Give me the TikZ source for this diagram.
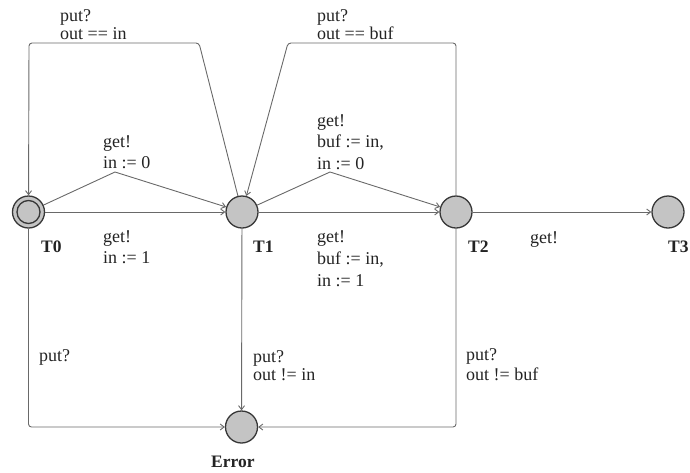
\documentclass[tikz,border=0pt]{standalone}
\usepackage{fontspec}
\setmainfont{Liberation Serif}
\usetikzlibrary{arrows.meta}
\definecolor{edgec}{RGB}{105,105,105}
\definecolor{locfill}{RGB}{196,196,196}
\definecolor{locline}{RGB}{55,55,55}
\definecolor{txtc}{RGB}{35,35,35}
\tikzset{
  loc/.style={circle, draw=locline, line width=1.3pt, fill=locfill, minimum size=32pt, inner sep=0pt},
  edge/.style={draw=edgec, line width=0.9pt, -{Straight Barb[length=4pt,width=6pt]}},
  lbl/.style={anchor=base west, inner sep=0pt, text=txtc, font=\fontsize{18}{20}\selectfont},
  nm/.style={anchor=base west, inner sep=0pt, text=txtc, font=\fontsize{17.5}{20}\selectfont\bfseries}
}
\begin{document}
\begin{tikzpicture}[x=1pt,y=-1pt]
\useasboundingbox (0,0) rectangle (690,472);
% locations
\node[loc] (T0) at (28.5,212) {};
\draw[locline, line width=1.3pt] (T0.center) circle (11.5);
\node[loc] (T1) at (242,212) {};
\node[loc] (T2) at (456,212) {};
\node[loc] (T3) at (668,212) {};
\node[loc] (Err) at (241.5,427) {};
% bend points
\coordinate (p01) at (115,172);
\coordinate (p12) at (330,172);
\coordinate (lA) at (199,43);
\coordinate (lB) at (29,43);
\coordinate (rA) at (456,43);
\coordinate (rB) at (288,43);
\coordinate (bL) at (28.5,427);
\coordinate (bR) at (456,427);
% edges
\draw[edge] (T0) -- (T1);
\draw[edge] (T0) -- (p01) -- (T1);
\draw[edge] (T1) -- (T2);
\draw[edge] (T1) -- (p12) -- (T2);
\draw[edge] (T2) -- (T3);
\draw[edge] (T1) -- (Err);
\draw[edge, rounded corners=3pt] (T1) -- (lA) -- (lB) -- (T0);
\draw[edge, rounded corners=3pt] (T2) -- (rA) -- (rB) -- (T1);
\draw[edge, rounded corners=3pt] (T0) -- (bL) -- (Err);
\draw[edge, rounded corners=3pt] (T2) -- (bR) -- (Err);
% location names
\node[nm] (nT0) at (41,252) {T0};
\node[nm] (nT1) at (253,252) {T1};
\node[nm] (nT2) at (468,252) {T2};
\node[nm] (nT3) at (668,252) {T3};
\node[nm] (nErr) at (211,467) {Error};
% edge labels
\node[lbl] (a1) at (60,21) {put?};
\node[lbl] (a2) at (60,39) {out == in};
\node[lbl] (b1) at (317,21) {put?};
\node[lbl] (b2) at (317,39) {out == buf};
\node[lbl] (c1) at (103,147) {get!};
\node[lbl] (c2) at (103,168) {in := 0};
\node[lbl] (d1) at (317,126) {get!};
\node[lbl] (d2) at (317,147) {buf := in,};
\node[lbl] (d3) at (317,169) {in := 0};
\node[lbl] (e1) at (103,242) {get!};
\node[lbl] (e2) at (103,263) {in := 1};
\node[lbl] (f1) at (317,242) {get!};
\node[lbl] (f2) at (317,264) {buf := in,};
\node[lbl] (f3) at (317,286) {in := 1};
\node[lbl] (g1) at (530,243) {get!};
\node[lbl] (h1) at (39,361) {put?};
\node[lbl] (i1) at (253,362) {put?};
\node[lbl] (i2) at (253,380) {out != in};
\node[lbl] (j1) at (466,360) {put?};
\node[lbl] (j2) at (466,380) {out != buf};
\end{tikzpicture}
\end{document}
